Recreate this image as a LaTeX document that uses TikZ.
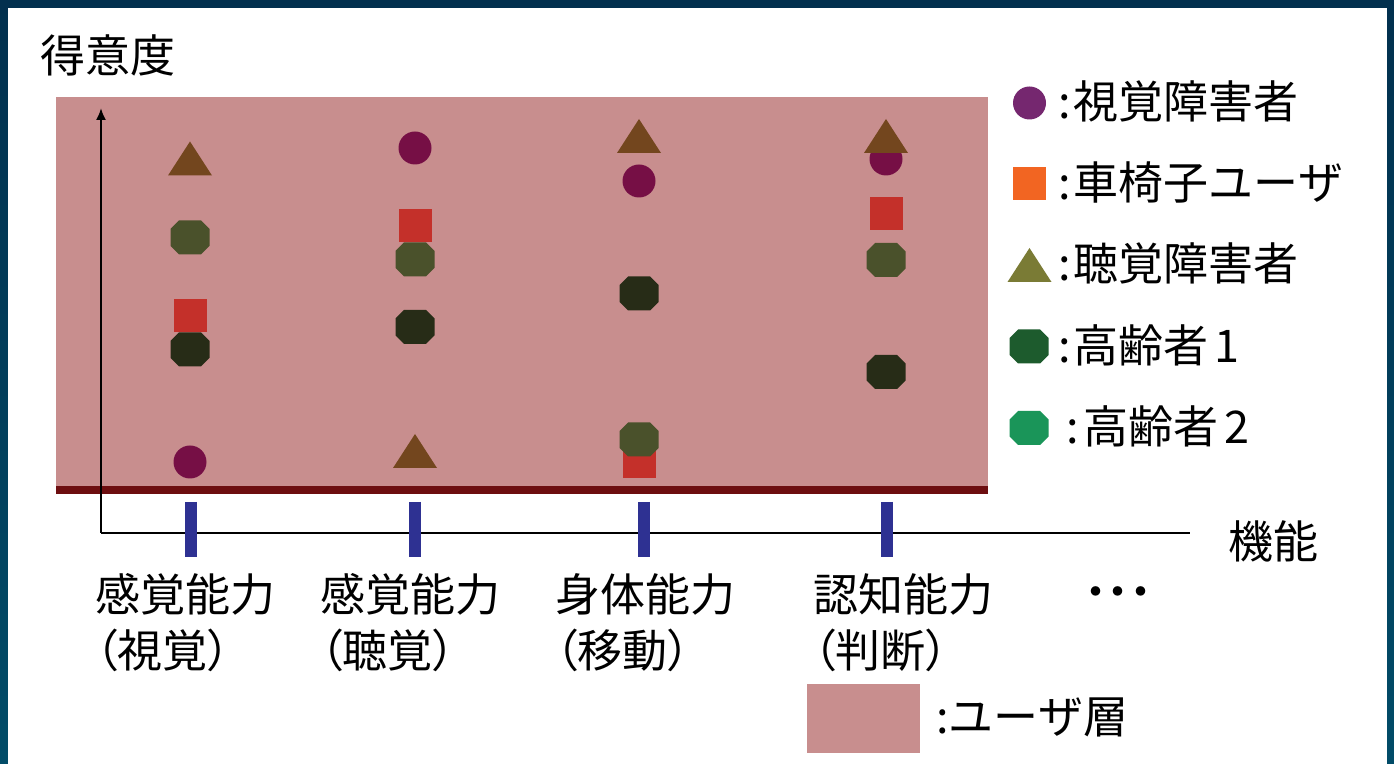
\documentclass[tikz,border=0pt]{standalone}
\usepackage{fontspec}
\newfontfamily\jp{Noto Sans CJK JP}
\newfontfamily\jpp[RawFeature=+palt]{Noto Sans CJK JP}
\usetikzlibrary{arrows.meta}

\definecolor{frametop}{HTML}{02304E}
\definecolor{framebot}{HTML}{024C68}
\definecolor{layerpink}{HTML}{C88E8E}
\definecolor{layerline}{HTML}{6D0E10}
\definecolor{tickblue}{HTML}{2E3192}
% colours inside the user layer
\definecolor{inpurple}{HTML}{760F45}
\definecolor{inred}{HTML}{C4302A}
\definecolor{inbrown}{HTML}{73461E}
\definecolor{indark}{HTML}{272C17}
\definecolor{ingreen}{HTML}{4A512B}
% colours of the legend
\definecolor{lgpurple}{HTML}{75276F}
\definecolor{lgorange}{HTML}{F26522}
\definecolor{lgolive}{HTML}{7A7B35}
\definecolor{lgdark}{HTML}{1D5B2D}
\definecolor{lggreen}{HTML}{1A9559}

\tikzset{
    lbl/.style={font=\jp\fontsize{22.5}{28}\selectfont, inner sep=0, anchor=west, align=left},
    plbl/.style={lbl, font=\jpp\fontsize{22.5}{28}\selectfont},
    mkcirc/.pic={\fill[pic actions] (0,0) circle (16.5);},
    mksq/.pic={\fill[pic actions] (-16.5,-16.5) rectangle (16.5,16.5);},
    mktri/.pic={\fill[pic actions] (0,-17) -- (22,17) -- (-22,17) -- cycle;},
    mkoct/.pic={\fill[pic actions] (-19.5,-8.5) -- (-11,-17) -- (11,-17) -- (19.5,-8.5)
        -- (19.5,8.5) -- (11,17) -- (-11,17) -- (-19.5,8.5) -- cycle;}
}

\begin{document}
\begin{tikzpicture}[x=0.5pt, y=-0.5pt]
    \useasboundingbox (0,0) rectangle (1394,764);
    \shade[top color=frametop, bottom color=framebot] (0,0) rectangle (1394,764);
    \fill[white] (8,8) rectangle (1387,764);

    % user layer
    \fill[layerpink] (56,97) rectangle (988,490);
    \foreach \x/\y in {190/462, 415/148, 639/181, 886/159}
        \pic[fill=inpurple] at (\x,\y) {mkcirc};
    \foreach \x/\y in {190/316, 415/226, 639/462, 886/214}
        \pic[fill=inred] at (\x,\y) {mksq};
    \foreach \x/\y in {190/158.5, 415/451, 639/136, 886/136}
        \pic[fill=inbrown] at (\x,\y) {mktri};
    \foreach \x/\y in {190/237.5, 415/259.5, 639/439.5, 886/260}
        \pic[fill=ingreen] at (\x,\y) {mkoct};
    \foreach \x/\y in {190/349.5, 415/327, 639/293.5, 886/372}
        \pic[fill=indark] at (\x,\y) {mkoct};
    \fill[layerline] (56,486) rectangle (988,494);

    % axes
    \coordinate (O) at (101,533);
    \coordinate (ytop) at (101,108);
    \coordinate (xend) at (1190,533);
    \draw[line width=1pt] (O) -- (xend);
    \draw[line width=1pt, -{Latex[length=6pt,width=5pt]}] (O) -- (ytop);
    \foreach \x in {190.5, 415, 644, 887}
        \draw[tickblue, line width=6pt] (\x,502) -- (\x,557);

    \node[lbl] (ytitle) at (40,55) {得意度};
    \node[lbl] (xtitle) at (1228,541) {機能};
    \node[plbl] (lab1) at (95,623) {感覚能力\\（視覚）};
    \node[plbl] (lab2) at (320,623) {感覚能力\\（聴覚）};
    \node[plbl] (lab3) at (555,623) {身体能力\\（移動）};
    \node[plbl] (lab4) at (813,623) {認知能力\\（判断）};
    \node[plbl] (dots) at (1084,598) {・・・};

    % legend
    \pic[fill=lgpurple] at (1029.5,103) {mkcirc};
    \pic[fill=lgorange] at (1029.5,184) {mksq};
    \pic[fill=lgolive] at (1029.5,265) {mktri};
    \pic[fill=lgdark] at (1029,346.5) {mkoct};
    \pic[fill=lggreen] at (1029,428) {mkoct};
    \node[lbl] (lg1) at (1058,101) {:\kern1.5pt 視覚障害者};
    \node[lbl] (lg2) at (1058,182) {:\kern1.5pt 車椅子ユーザ};
    \node[lbl] (lg3) at (1058,263) {:\kern1.5pt 聴覚障害者};
    \node[lbl] (lg4) at (1058,345) {:\kern1.5pt 高齢者\kern3pt 1};
    \node[lbl] (lg5) at (1066,426) {:\kern2.5pt 高齢者\kern3pt 2};
    \fill[layerpink] (807,684) rectangle (920,753);
    \node[lbl] (lg6) at (936,717) {:ユーザ層};
\end{tikzpicture}
\end{document}
